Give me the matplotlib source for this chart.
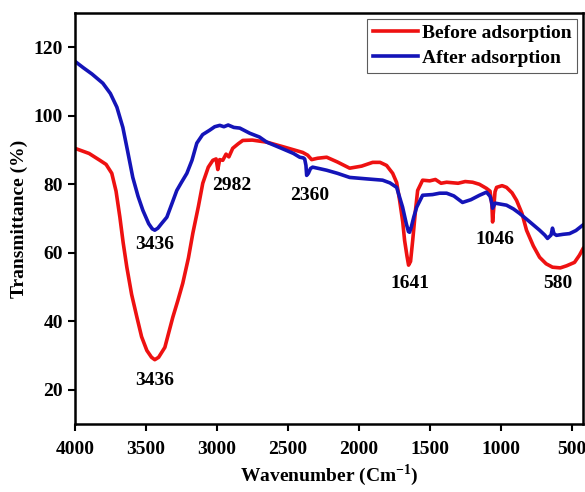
import matplotlib
matplotlib.use('Agg')
import matplotlib.pyplot as plt

plt.rcParams['font.family'] = 'Liberation Serif'
plt.rcParams['font.weight'] = 'bold'
plt.rcParams['mathtext.fontset'] = 'custom'
plt.rcParams['mathtext.rm'] = 'Liberation Serif'
plt.rcParams['mathtext.bf'] = 'Liberation Serif:bold'

# FTIR spectra, wavenumber (cm-1) vs transmittance (%)
before_wn = [4000, 3900, 3824, 3780, 3740, 3710, 3683, 3660, 3634, 3600, 3563, 3530, 3493, 3460,
             3437, 3410, 3366, 3340, 3310, 3275, 3240, 3200, 3169, 3130, 3099, 3060, 3028, 3005,
             2993, 2980, 2958, 2935, 2915, 2888, 2850, 2817, 2750, 2648, 2520, 2395, 2360, 2332,
             2290, 2226, 2150, 2064, 1980, 1902, 1850, 1804, 1761, 1733, 1712, 1690, 1677, 1660,
             1649, 1635, 1620, 1600, 1585, 1550, 1500, 1460, 1420, 1381, 1300, 1250, 1198, 1150,
             1100, 1075, 1062, 1057, 1050, 1040, 1029, 990, 959, 920, 888, 850, 818, 770, 726,
             680, 635, 580, 536, 480, 445, 420]
before_t = [90.5, 89.0, 87.0, 85.8, 83.2, 78.0, 70.4, 63.0, 55.8, 47.8, 41.2, 35.5, 31.5, 29.5,
            28.8, 29.5, 32.4, 36.5, 41.2, 46.0, 51.1, 58.5, 65.7, 73.5, 80.3, 85.0, 87.0, 87.4,
            84.3, 87.2, 87.0, 88.8, 88.0, 90.5, 91.8, 92.8, 92.9, 92.3, 90.8, 89.3, 88.5, 87.2,
            87.6, 87.9, 86.5, 84.7, 85.3, 86.4, 86.4, 85.5, 83.2, 80.5, 75.3, 69.0, 63.6, 59.0,
            56.4, 57.5, 63.6, 72.5, 78.2, 81.2, 81.0, 81.4, 80.3, 80.6, 80.3, 80.8, 80.6, 80.0,
            78.8, 78.0, 74.0, 69.0, 72.5, 77.8, 79.1, 79.6, 79.1, 77.5, 75.3, 71.5, 66.6, 62.0,
            58.7, 56.8, 55.8, 55.6, 56.2, 57.2, 59.3, 61.2]

after_wn = [4000, 3940, 3880, 3803, 3750, 3704, 3662, 3630, 3592, 3555, 3521, 3480, 3455, 3437,
            3415, 3390, 3352, 3315, 3282, 3250, 3211, 3175, 3141, 3100, 3050, 3015, 2979, 2950,
            2920, 2880, 2838, 2768, 2700, 2648, 2550, 2460, 2416, 2390, 2381, 2372, 2367, 2355,
            2340, 2325, 2280, 2226, 2150, 2064, 1950, 1832, 1780, 1733, 1691, 1665, 1650, 1642,
            1630, 1612, 1592, 1550, 1480, 1430, 1381, 1330, 1269, 1210, 1149, 1100, 1075, 1065,
            1057, 1040, 1000, 959, 910, 867, 800, 726, 690, 670, 655, 645, 635, 625, 607, 560,
            515, 470, 424]
after_t = [115.9, 114.0, 112.2, 109.5, 106.5, 102.5, 96.6, 90.0, 82.0, 76.5, 72.4, 68.5, 67.0, 66.6,
           67.2, 68.5, 70.4, 74.5, 78.2, 80.5, 83.2, 87.0, 92.0, 94.5, 95.8, 96.8, 97.2, 96.8,
           97.3, 96.6, 96.4, 94.9, 93.8, 92.3, 90.6, 89.0, 87.9, 87.7, 87.4, 85.5, 82.6, 83.2,
           84.6, 85.0, 84.6, 84.1, 83.2, 82.0, 81.6, 81.2, 80.4, 79.1, 73.3, 68.5, 66.2, 66.0,
           67.5, 70.5, 73.3, 76.8, 77.0, 77.4, 77.4, 76.6, 74.7, 75.5, 76.8, 77.7, 76.5, 75.0,
           73.0, 74.5, 74.2, 73.9, 72.8, 71.5, 69.2, 66.6, 65.2, 64.2, 64.8, 65.2, 67.2, 65.6,
           65.1, 65.4, 65.6, 66.5, 68.0]

# peak labels: text, wavenumber, transmittance
peak_text = ['3436', '3436', '2982', '2360', '1641', '1046', '580']
peak_x = [3437, 3437, 2895, 2346, 1642, 1043, 600]
peak_y = [62.5, 22.8, 79.7, 76.8, 51.1, 64.0, 51.1]

fig = plt.figure(figsize=(5.85, 4.92), dpi=100)
ax = fig.add_axes([0.128, 0.138, 0.8686, 0.8356])

ax.plot(before_wn, before_t, color='#ee1111', linewidth=2.6, label='Before adsorption')
ax.plot(after_wn, after_t, color='#1414b8', linewidth=2.6, label='After adsorption')

for t, x, y in zip(peak_text, peak_x, peak_y):
    ax.text(x, y, t, ha='center', va='center', fontsize=14, fontweight='bold')

ax.set_xlim(4000, 420)
ax.set_ylim(10, 130)
ax.set_xticks([4000, 3500, 3000, 2500, 2000, 1500, 1000, 500])
ax.set_yticks([20, 40, 60, 80, 100, 120])
ax.tick_params(direction='out', length=5, width=1.5, labelsize=14)
ax.tick_params(axis='x', pad=7)
for s in ax.spines.values():
    s.set_linewidth(1.8)

ax.set_xlabel('Wavenumber (Cm$^{\\mathbf{-1}}$)', fontsize=14, fontweight='bold', labelpad=3)
ax.set_ylabel('Transmittance (%)', fontsize=14, fontweight='bold', labelpad=4)

leg = ax.legend(loc='upper right', fontsize=14, frameon=True, fancybox=False,
                handlelength=2.3, handletextpad=0.2, borderpad=0.3, labelspacing=0.35,
                borderaxespad=0.3)
leg.get_frame().set_edgecolor('#333333')
leg.get_frame().set_linewidth(0.8)

plt.savefig('out.png', dpi=100)
